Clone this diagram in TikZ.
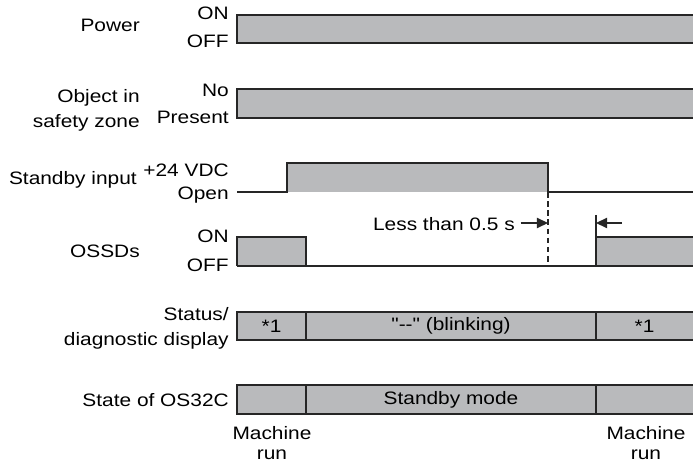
\documentclass[tikz,border=0pt]{standalone}
\usepackage{fontspec}
\setmainfont{Liberation Sans}[FakeStretch=1.16, Ligatures=TeXOff]
\usepackage{tikz}
\usetikzlibrary{arrows.meta}
\definecolor{levelgray}{RGB}{185,186,188}
\tikzset{
  wire/.style={ draw=black!85, line width=0.8pt }
}
\tikzset{
  lvl/.style={ fill=levelgray }
}
\tikzset{
  seg/.style={ draw=black!85, fill=levelgray, line width=0.8pt }
}
\tikzset{
  sig/.style={ anchor=base east, inner sep=0pt }
}
\tikzset{
  sigtwo/.style={ anchor=east, inner sep=0pt, align=right }
}
\tikzset{
  tip/.style={ draw=black!85, line width=0.8pt, -{Triangle[length=2.8mm, width=2.6mm]} }
}

\begin{document}
\begin{tikzpicture}[x=0.025cm, y=-0.025cm, font=\fontsize{12.8}{17.8}\selectfont]
      \useasboundingbox (0,0) rectangle (693,464);

      % signal names
      \node[sig] (pw) at (140, 32) {Power};
      \node[sigtwo] (obj) at (140, 110) {Object in\\safety zone};
      \node[sig] (sbin) at (137, 185) {Standby input};
      \node[sig] (oss) at (140, 258) {OSSDs};
      \node[sigtwo] (disp) at (229, 328) {Status/\\diagnostic display};
      \node[sig] (state) at (229, 407) {State of OS32C};

      % levels
      \node[sig] (pwon) at (229, 20) {ON};
      \node[sig] (pwoff) at (229, 48) {OFF};
      \node[sig] (objno) at (229, 97) {No};
      \node[sig] (objpr) at (229, 124) {Present};
      \node[sig] (sbhi) at (229, 177) {+24 VDC};
      \node[sig] (sblo) at (229, 200) {Open};
      \node[sig] (osson) at (229, 243) {ON};
      \node[sig] (ossoff) at (229, 272) {OFF};

      % power and object
      \fill[lvl] (237, 15) rectangle (693, 43);
      \draw[wire] (693, 15) -- (237, 15) -- (237, 43) -- (693, 43);
      \fill[lvl] (237, 89) rectangle (693, 118);
      \draw[wire] (693, 89) -- (237, 89) -- (237, 118) -- (693, 118);

      % standby input
      \fill[lvl] (287, 163) rectangle (548, 192);
      \draw[wire] (237, 192) -- (287, 192) -- (287, 163) -- (548, 163) -- (548, 192) -- (693, 192);

      % ossds
      \fill[lvl] (237, 237) rectangle (306, 266);
      \fill[lvl] (596, 237) rectangle (693, 266);
      \draw[wire] (237, 266) -- (237, 237) -- (306, 237) -- (306, 266);
      \draw[wire] (237, 266) -- (693, 266);
      \draw[wire] (596, 215) -- (596, 266);
      \draw[wire] (596, 237) -- (693, 237);
      \draw[wire, dash pattern=on 4pt off 2.5pt] (548, 192) -- (548, 266);

      \coordinate (sbfall) at (548, 223);
      \coordinate (ossrise) at (596, 223);
      \coordinate (rstart) at (622, 223);
      \node[anchor=east, inner sep=0pt] (less) at (515, 224) {Less than 0.5 s};
      \draw[tip] ([xshift=4pt]less.east |- sbfall) -- (sbfall);
      \draw[tip] (rstart) -- (ossrise);

      % display and state
      \filldraw[seg] (237, 312) rectangle node (dspA) {*1} (306, 340);
      \filldraw[seg] (306, 312) rectangle node (dspB) {"--" (blinking)} (596, 340);
      \draw[seg] (693, 312) -- (596, 312) -- (596, 340) -- (693, 340);
      \node (dspC) at (644.5, 326) {*1};

      \filldraw[seg] (237, 385) rectangle node (stA) {} (306, 414);
      \filldraw[seg] (306, 385) rectangle node (stB) {Standby mode} (596, 414);
      \draw[seg] (693, 385) -- (596, 385) -- (596, 414) -- (693, 414);

      \node[align=center, inner sep=0pt, font=\fontsize{12.8}{14.2}\selectfont] (runA) at (272, 443.5) {Machine\\run};
      \node[align=center, inner sep=0pt, font=\fontsize{12.8}{14.2}\selectfont] (runB) at (646, 443.5) {Machine\\run};

    \end{tikzpicture}
\end{document}
